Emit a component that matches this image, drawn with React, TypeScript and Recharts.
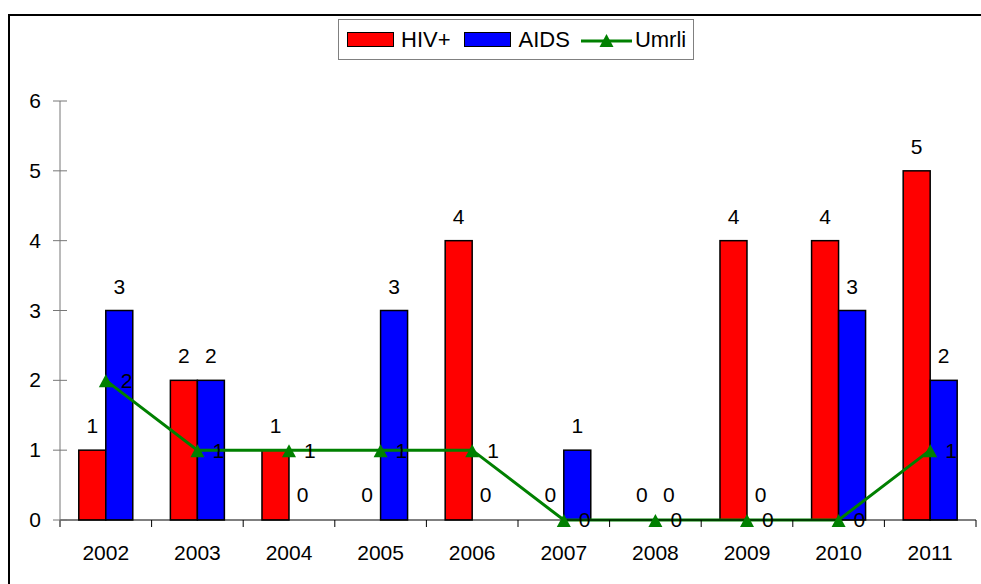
import { ComposedChart, Bar, Line, XAxis, YAxis, Legend, LabelList } from "recharts";

// podaci po godinama
const years = ["2002", "2003", "2004", "2005", "2006", "2007", "2008", "2009", "2010", "2011"];
const hivPlus = [1, 2, 1, 0, 4, 0, 0, 4, 4, 5];
const aids = [3, 2, 0, 3, 0, 1, 0, 0, 3, 2];
const umrli = [2, 1, 1, 1, 1, 0, 0, 0, 0, 1];
const yTicks = [0, 1, 2, 3, 4, 5, 6];

const data = years.map((year, i) => ({ year, hiv: hivPlus[i], aids: aids[i], umrli: umrli[i] }));

const FONT = '"Liberation Sans", Arial, sans-serif';

const YTick = (props: any) => {
  const { x, y, payload } = props;
  const ax = x + 19;
  return (
    <g>
      <line x1={ax - 7} x2={ax + 7} y1={y} y2={y} stroke="#777" />
      {payload.value === 0 && <line x1={ax} x2={ax} y1={y} y2={y + 7} stroke="#777" />}
      <text x={x} y={y} dy={7} textAnchor="end" fontSize={21} fontFamily={FONT} fill="#000">
        {payload.value}
      </text>
    </g>
  );
};

const XTick = (props: any) => {
  const { x, y, payload, index } = props;
  const off = payload.offset ?? 45.8;
  const ay = y - 25;
  const last = index === years.length - 1;
  return (
    <g>
      <line x1={x - off} x2={x - off} y1={ay} y2={ay + 7} stroke="#000" />
      {last && <line x1={x + off} x2={x + off} y1={ay} y2={ay + 7} stroke="#000" />}
      <text x={x} y={ay + 40} textAnchor="middle" fontSize={21} fontFamily={FONT} fill="#000">
        {payload.value}
      </text>
    </g>
  );
};

// zero bars keep a 1px stub so their label is placed, but the stub itself is not drawn
const BarShape = (props: any) => {
  const { x, y, width, height, fill } = props;
  if (height < 2) return <g />;
  return <rect x={x} y={y} width={width} height={height} fill={fill} stroke="#000" strokeWidth={1.5} />;
};

const Triangle = (props: any) => {
  const { cx, cy, index } = props;
  if (cx == null || cy == null) return <g key={index} />;
  return <polygon key={index} points={`${cx - 7},${cy + 7} ${cx + 7},${cy + 7} ${cx},${cy - 6}`} fill="#008000" />;
};

const swatch = (color: string) => (
  <span style={{ display: "inline-block", width: 45, height: 13, background: color, border: "1px solid #000" }} />
);

const LegendBox = () => (
  <div
    style={{
      display: "flex",
      alignItems: "center",
      height: 39,
      border: "1px solid #808080",
      background: "#fff",
      paddingLeft: 8,
      paddingRight: 7,
      fontFamily: FONT,
      fontSize: 22,
      color: "#000",
      whiteSpace: "nowrap",
    }}
  >
    {swatch("#ff0000")}
    <span style={{ marginLeft: 7, marginRight: 13 }}>HIV+</span>
    {swatch("#0000ff")}
    <span style={{ marginLeft: 8, marginRight: 11 }}>AIDS</span>
    <svg width={51} height={16} style={{ display: "block" }}>
      <line x1={0} x2={51} y1={9} y2={9} stroke="#008000" strokeWidth={3} />
      <polygon points="18.5,15 32.5,15 25.5,2" fill="#008000" />
    </svg>
    <span style={{ marginLeft: 3 }}>Umrli</span>
  </div>
);

export default function App() {
  return (
    <div style={{ position: "relative", width: 981, height: 584, overflow: "hidden", background: "#fff" }}>
      <style>{`body{margin:0;overflow:hidden}`}</style>
      <div
        style={{
          position: "absolute",
          left: 8,
          top: 14,
          width: 990,
          height: 600,
          borderTop: "2px solid #000",
          borderLeft: "2px solid #000",
        }}
      />
      <div style={{ position: "absolute", left: 10, top: 16 }}>
        <ComposedChart
          width={971}
          height={568}
          data={data}
          margin={{ top: 85, right: 5, bottom: 24, left: 0 }}
          barCategoryGap="20.5%"
          barGap={0}
        >
          <XAxis
            dataKey="year"
            height={40}
            axisLine={{ stroke: "#000" }}
            tickLine={false}
            tickSize={7}
            tickMargin={18}
            tick={<XTick />}
          />
          <YAxis
            width={50}
            domain={[0, 6]}
            ticks={yTicks}
            interval={0}
            axisLine={{ stroke: "#777" }}
            tickLine={false}
            tickSize={7}
            tickMargin={12}
            tick={<YTick />}
          />
          <Legend
            layout="horizontal"
            verticalAlign="middle"
            align="center"
            content={<LegendBox />}
            wrapperStyle={{ top: 3, left: 328, width: "auto", height: "auto" }}
          />
          <Bar dataKey="hiv" name="HIV+" fill="#ff0000" minPointSize={1} shape={BarShape} isAnimationActive={false}>
            <LabelList dataKey="hiv" position="top" offset={17} fontSize={21} fontFamily={FONT} fill="#000" />
          </Bar>
          <Bar dataKey="aids" name="AIDS" fill="#0000ff" minPointSize={1} shape={BarShape} isAnimationActive={false}>
            <LabelList dataKey="aids" position="top" offset={17} fontSize={21} fontFamily={FONT} fill="#000" />
          </Bar>
          <Line
            dataKey="umrli"
            name="Umrli"
            type="linear"
            stroke="#008000"
            strokeWidth={3}
            dot={Triangle}
            activeDot={false}
            isAnimationActive={false}
          >
            <LabelList dataKey="umrli" position="right" offset={15} fontSize={21} fontFamily={FONT} fill="#000" />
          </Line>
        </ComposedChart>
      </div>
    </div>
  );
}
